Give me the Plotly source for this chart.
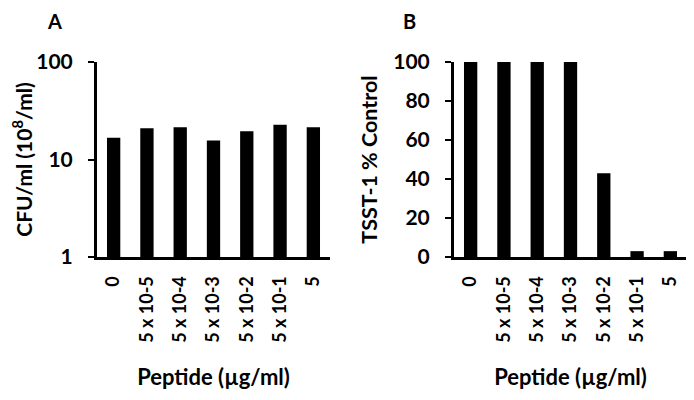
import plotly.graph_objects as go

categories = ["0", "5 x 10-5", "5 x 10-4", "5 x 10-3", "5 x 10-2", "5 x 10-1", "5"]
cfu_values = [16.7, 20.9, 21.4, 15.7, 19.5, 22.7, 21.4]
tsst_values = [100, 100, 100, 100, 43, 3, 3]
cfu_ticks = [1, 10, 100]
tsst_ticks = [0, 20, 40, 60, 80, 100]

FONT = "Lato"
OFF = 8  # default page body margin
W, H = 694 - OFF, 400 - OFF


def px(x):
    return (x - OFF) / W


def py(y):
    return 1 - (y - OFF) / H


fig = go.Figure()
fig.add_trace(go.Bar(x=categories, y=cfu_values, marker=dict(color="black", line=dict(width=0)),
                     xaxis="x", yaxis="y", showlegend=False))
fig.add_trace(go.Bar(x=categories, y=tsst_values, marker=dict(color="black", line=dict(width=0)),
                     xaxis="x2", yaxis="y2", showlegend=False))

xcommon = dict(type="category", range=[-0.5, 6.5], showline=True, linecolor="black", linewidth=3,
               ticks="", tickangle=-90, showgrid=False, zeroline=False, ticklabelstandoff=9,
               automargin=False,
               tickfont=dict(family=FONT, size=18, color="black", weight="bold"),
               title=dict(text="Peptide (µg/ml)", font=dict(family=FONT, size=22, color="black", weight="bold"),
                          standoff=28))
ycommon = dict(showline=True, linecolor="black", linewidth=3, ticks="outside", ticklen=6,
               tickwidth=2, tickcolor="black", showgrid=False, zeroline=False, automargin=False,
               ticklabelstandoff=11,
               tickfont=dict(family=FONT, size=21, color="black", weight="bold"))

fig.update_layout(
    width=W, height=H, margin=dict(l=0, r=0, t=0, b=0, autoexpand=False),
    plot_bgcolor="white", paper_bgcolor="white", bargap=0.6,
    xaxis=dict(domain=[px(97), px(330)], anchor="y", **xcommon),
    xaxis2=dict(domain=[px(454), px(687)], anchor="y2", **xcommon),
    yaxis=dict(domain=[py(257), py(62)], anchor="x", type="log", range=[0, 2], tickvals=cfu_ticks,
               ticktext=[str(v) for v in cfu_ticks],
               title=dict(text="CFU/ml (10<sup>8</sup>/ml)", font=dict(family=FONT, size=21, color="black", weight="bold"),
                          standoff=12), **ycommon),
    yaxis2=dict(domain=[py(257), py(62)], anchor="x2", range=[0, 100], tickvals=tsst_ticks,
                title=dict(text="TSST-1 % Control", font=dict(family=FONT, size=21.5, color="black", weight="bold"),
                           standoff=10), **ycommon),
    annotations=[
        dict(text="A", x=px(55), y=1, xref="paper", yref="paper", showarrow=False,
             xanchor="center", yanchor="top", borderpad=0,
             font=dict(family=FONT, size=20, color="black", weight="bold")),
        dict(text="B", x=px(409), y=1, xref="paper", yref="paper", showarrow=False,
             xanchor="center", yanchor="top", borderpad=0,
             font=dict(family=FONT, size=20, color="black", weight="bold")),
    ],
)

fig.write_html("out.html")
